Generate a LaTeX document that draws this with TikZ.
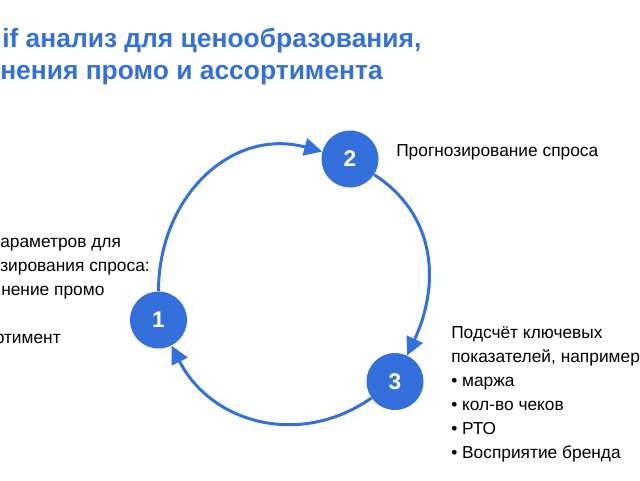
\documentclass[tikz,border=0pt]{standalone}
\usepackage{fontspec}
\setmainfont{Liberation Sans}
\usetikzlibrary{arrows.meta}
\definecolor{brandblue}{HTML}{3370DC}
\tikzset{
  stage/.style={circle, fill=brandblue, minimum size=42.75pt, inner sep=0pt,
    text=white, font=\bfseries\fontsize{17}{19}\selectfont},
  flow/.style={draw=brandblue, line width=2.25pt,
    -{Triangle[length=13.5pt,width=13pt]}},
  body/.style={inner sep=0pt, font=\fontsize{13}{15}\selectfont},
  headline/.style={inner sep=0pt, text=brandblue, font=\bfseries\fontsize{19.8}{22}\selectfont}
}
\begin{document}
\begin{tikzpicture}[x=0.75pt, y=0.75pt]
			\useasboundingbox (0,0) rectangle (640,480);
			% title, cut by the left edge
			\node[headline, anchor=base west] (title1) at (2,433) {if анализ для ценообразования,};
			\node[headline, anchor=base west] (title2) at (0,401) {нения промо и ассортимента};
			% the three stages
			\node[stage] (n1) at (158.5,160) {1};
			\node[stage] (n2) at (350,321) {2};
			\node[stage] (n3) at (395,98.5) {3};
			\draw[flow] (n1) to[out=90, in=165, looseness=1.12] (n2);
			\draw[flow] (n2) to[out=-33, in=65, looseness=1.06] (n3);
			\draw[flow] (n3) to[out=215, in=-63, looseness=1.08] (n1);
			% texts
			\path
			(0,233) node[body, anchor=base west] (l1) {араметров для}
			(0,209) node[body, anchor=base west] (l2) {зирования спроса:}
			(1,185) node[body, anchor=base west] (l3) {нение промо}
			(61,137) node[body, anchor=base east] (l4) {ртимент};
			\node[body, anchor=base west] (t2) at (396,324) {Прогнозирование спроса};
			\foreach \txt [count=\i] in {Подсчёт ключевых, {показателей, например:}, • маржа, • кол-во чеков, • РТО, • Восприятие бренда}
			  \node[body, anchor=base west] (t3\i) at (451,166-24*\i) {\txt};
\end{tikzpicture}
\end{document}
